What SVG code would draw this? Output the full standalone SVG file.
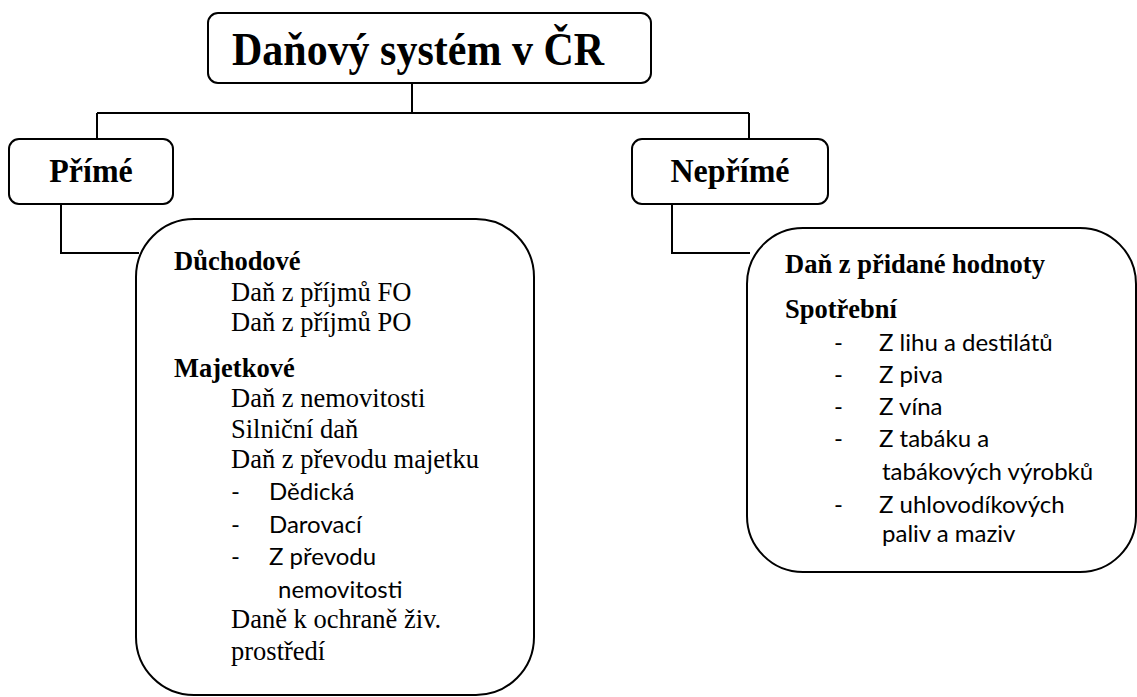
<svg xmlns="http://www.w3.org/2000/svg" width="1137" height="697" viewBox="0 0 1137 697">
  <style>
    .box { fill: #ffffff; stroke: #000000; stroke-width: 2; }
    .wire { fill: none; stroke: #000000; stroke-width: 2; }
    .title { font-family: "Liberation Serif", "Times New Roman", serif; font-weight: bold; font-size: 42px; fill: #000; }
    .head { font-family: "Liberation Serif", "Times New Roman", serif; font-weight: bold; font-size: 32px; fill: #000; }
    .sub { font-family: "Liberation Serif", "Times New Roman", serif; font-weight: bold; font-size: 26.5px; fill: #000; }
    .item { font-family: "Liberation Serif", "Times New Roman", serif; font-size: 26.5px; fill: #000; }
    .bullet { font-family: Lato, "Open Sans", sans-serif; font-size: 24px; fill: #000; }
  </style>

  <!-- connectors -->
  <g id="connectors">
    <path class="wire" d="M412,83 V113 M97,113 H749 M97,113 V139 M749,113 V139"/>
    <path class="wire" d="M61,204 V253 H139"/>
    <path class="wire" d="M672,204 V253 H750"/>
  </g>

  <!-- root -->
  <g id="root">
    <rect class="box" x="208" y="13" width="443" height="70" rx="10"/>
    <text class="title" transform="translate(418,65) scale(1,1.08)" text-anchor="middle">Daňový systém v ČR</text>
  </g>

  <!-- direct taxes -->
  <g id="prime">
    <rect class="box" x="9" y="139" width="164" height="65" rx="10"/>
    <text class="head" transform="translate(91,182) scale(1,1.04)" text-anchor="middle">Přímé</text>
  </g>

  <!-- indirect taxes -->
  <g id="neprime">
    <rect class="box" x="632" y="139" width="196" height="65" rx="10"/>
    <text class="head" transform="translate(730,182) scale(1,1.04)" text-anchor="middle">Nepřímé</text>
  </g>

  <!-- list of direct taxes -->
  <g id="prime-list">
    <rect class="box" x="136" y="219" width="398" height="476" rx="58"/>
    <text class="sub" x="174" y="270">Důchodové</text>
    <text class="item" x="231" y="301">Daň z příjmů FO</text>
    <text class="item" x="231" y="331">Daň z příjmů PO</text>
    <text class="sub" x="174" y="377">Majetkové</text>
    <text class="item" x="231" y="407">Daň z nemovitosti</text>
    <text class="item" x="231" y="438">Silniční daň</text>
    <text class="item" x="231" y="468">Daň z převodu majetku</text>
    <text class="bullet" x="231" y="500">-</text>
    <text class="bullet" x="269" y="500">Dědická</text>
    <text class="bullet" x="231" y="533">-</text>
    <text class="bullet" x="269" y="533">Darovací</text>
    <text class="bullet" x="231" y="565">-</text>
    <text class="bullet" x="269" y="565">Z převodu</text>
    <text class="bullet" x="278" y="598">nemovitosti</text>
    <text class="item" x="231" y="628">Daně k ochraně živ.</text>
    <text class="item" x="231" y="660">prostředí</text>
  </g>

  <!-- list of indirect taxes -->
  <g id="neprime-list">
    <rect class="box" x="747" y="228" width="389" height="344" rx="56"/>
    <text class="sub" x="785" y="273">Daň z přidané hodnoty</text>
    <text class="sub" x="785" y="318">Spotřební</text>
    <text class="bullet" x="834" y="351">-</text>
    <text class="bullet" x="879" y="351">Z lihu a destilátů</text>
    <text class="bullet" x="834" y="383">-</text>
    <text class="bullet" x="879" y="383">Z piva</text>
    <text class="bullet" x="834" y="415">-</text>
    <text class="bullet" x="879" y="415">Z vína</text>
    <text class="bullet" x="834" y="447">-</text>
    <text class="bullet" x="879" y="447">Z tabáku a</text>
    <text class="bullet" x="882" y="480">tabákových výrobků</text>
    <text class="bullet" x="834" y="513">-</text>
    <text class="bullet" x="879" y="513">Z uhlovodíkových</text>
    <text class="bullet" x="882" y="542">paliv a maziv</text>
  </g>
</svg>
